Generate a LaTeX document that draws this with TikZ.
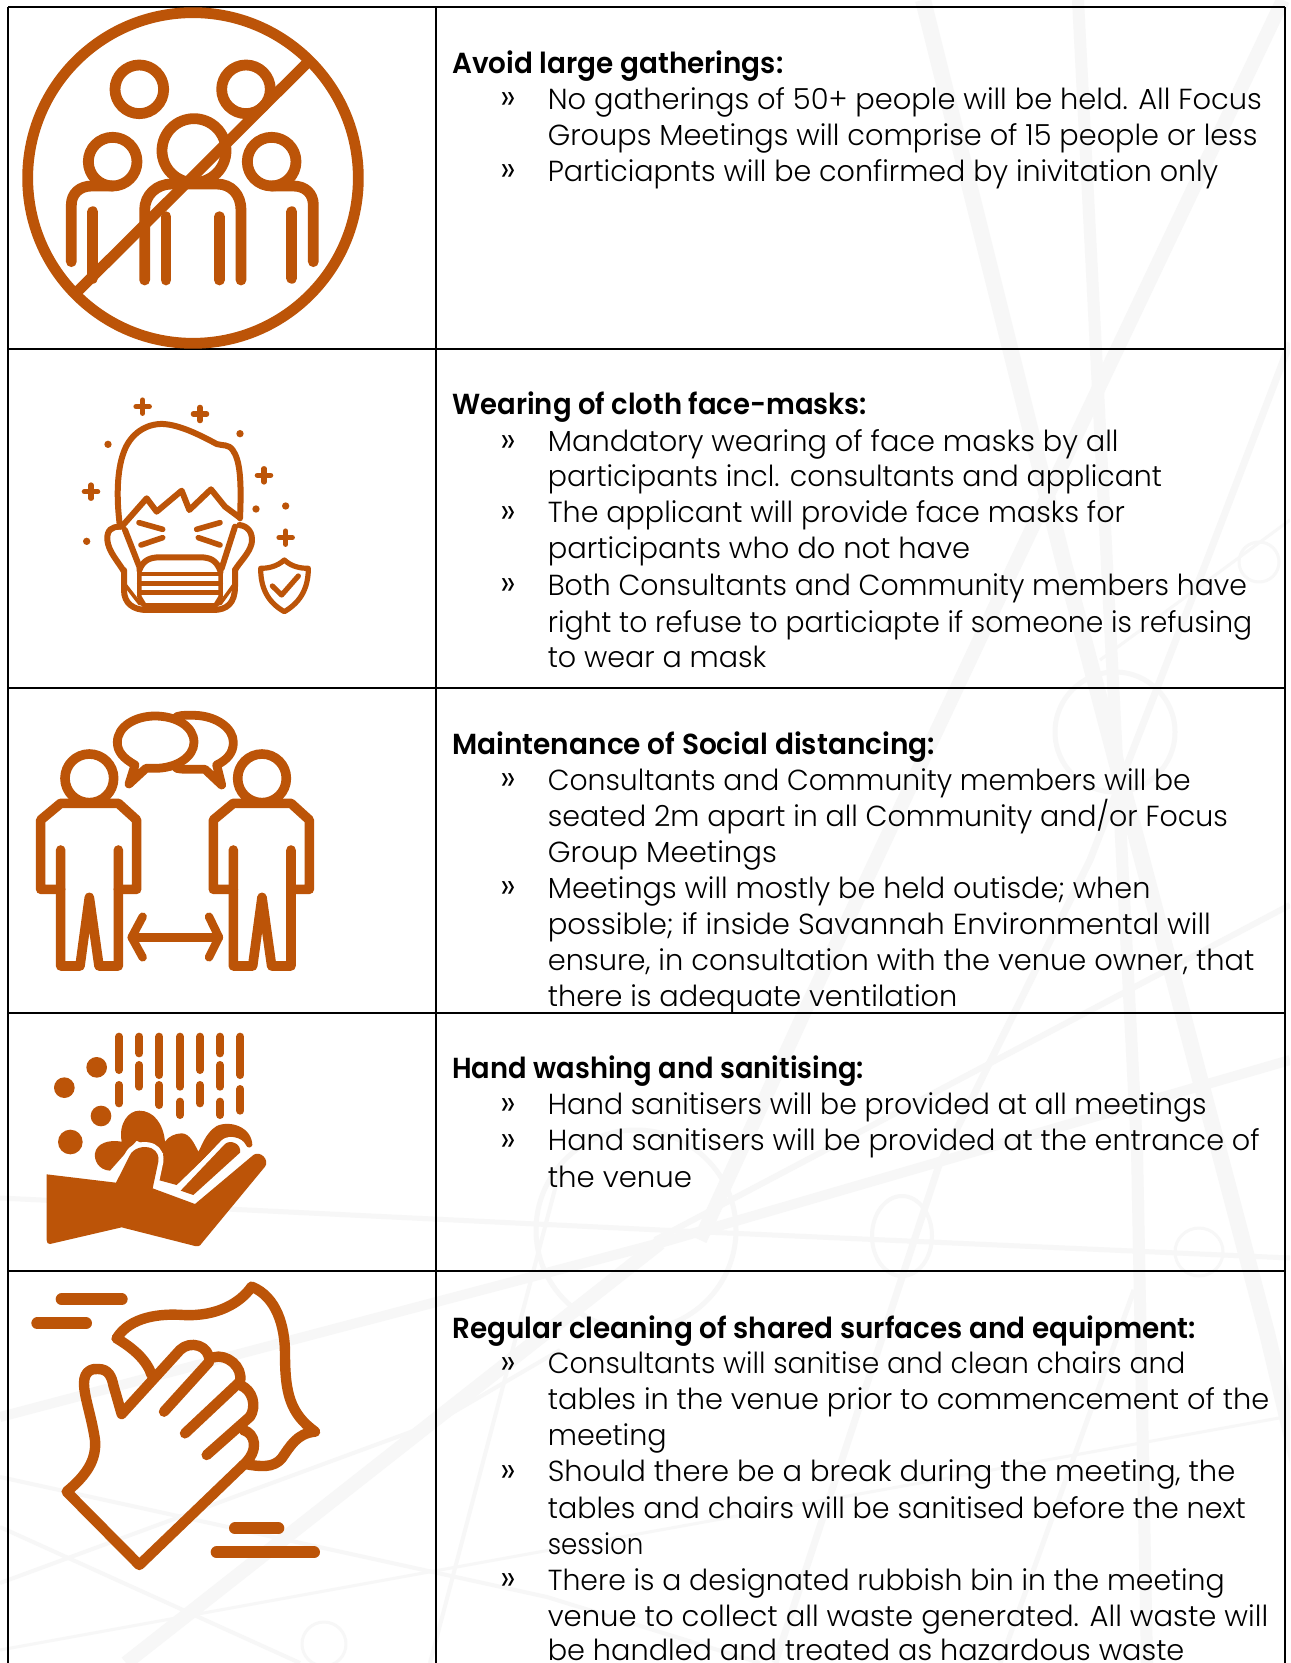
\documentclass[tikz,border=0pt]{standalone}
\usepackage{fontspec}
\usepackage{graphicx}
\setmainfont{Poppins}[UprightFont=* Light,BoldFont=* SemiBold]
\definecolor{icon}{HTML}{BC5408}
\definecolor{wm}{HTML}{F7F7F7}
\newcounter{tl}
\newsavebox\tlbox
\newcommand\tlfont{\fontsize{14.5pt}{18pt}\selectfont}
% #1 font switch, #2 y centre, #3 x start, #4 x end (all in 1216-wide measure), #5 text
\newcommand\tline[5]{%
  \stepcounter{tl}%
  \node[anchor=base west,inner sep=0pt,name=t\arabic{tl}] at ({#3*1.0609},{#2*1.0609+10.5}) {%
    \sbox\tlbox{\tlfont#1{}#5}%
    \pgfmathsetmacro\sx{(#4-#3)*1.0609*0.5/(\wd\tlbox)}%
    \scalebox{\sx}[1]{\usebox\tlbox}};%
}
\newcommand\heading[3]{\tline{\bfseries}{#1}{426}{#2}{#3}}
\newcommand\bline[3]{\tline{}{#1}{516}{#2}{#3}}
\newcommand\bul[1]{\stepcounter{tl}\node[anchor=base west,inner sep=0pt,name=t\arabic{tl},font=\fontsize{18pt}{18pt}\selectfont] at ({471*1.0609},{#1*1.0609+11}) {»};}
\tikzset{
  grid/.style={line width=1.25pt,black},
  ic/.style={draw=icon,line cap=round,line join=round},
  wmline/.style={draw=wm,line join=round}
}
\begin{document}
\begin{tikzpicture}[x=0.5pt,y=-0.5pt]
\useasboundingbox (0,0) rectangle (1290,1663);
\fill[white] (0,0) rectangle (1290,1663);
% watermark
\begin{scope}
\clip (0,0) rectangle (1290,1663);
\draw[wmline,line width=8pt] (923,0) -- (1063,560) -- (1267,1333) -- (1340,1640);
\draw[wmline,line width=6pt] (1078,0) -- (1137,1150) -- (1147,1663);
\draw[wmline,line width=7pt] (1283,0) -- (1017,560) -- (810,1000) -- (700,1240);
\draw[wmline,line width=2.5pt] (1134,1290) -- (1000,1663);
\draw[wmline,line width=2.5pt] (0,1198) -- (660,1230) -- (1290,1258);
\draw[wmline,line width=5pt] (0,1417) -- (660,1243) -- (1290,1060);
\draw[wmline,line width=3pt] (655,1240) -- (1290,905);
\draw[wmline,line width=2pt] (0,1477) -- (547,1597) -- (760,1663);
\draw[wmline,line width=2pt] (0,1527) -- (300,1663);
\draw[wmline,line width=1.5pt] (0,1650) -- (660,1530) -- (1290,1416);
\draw[wmline,line width=7pt] (126,1663) -- (435,1420) -- (660,1243);
\draw[wmline,line width=2pt] (0,1583) -- (435,1423) -- (560,1350);
\draw[wmline,line width=3.5pt] (1290,343) -- (1207,560) -- (1090,860) -- (939,1165) -- (775,1663);
\draw[wmline,line width=1.5pt] (1290,520) -- (1100,660);
\draw[wmline,line width=2pt] (560,1170) -- (430,1663);
\draw[wmline,line width=2.5pt] (636,1230) circle[radius=100];
\draw[wmline,line width=2.5pt] (1115,732) circle[radius=60];
\draw[wmline,line width=2pt] (902,1236) ellipse[x radius=30,y radius=40];
\draw[wmline,line width=1.5pt] (1199,1252) circle[radius=24];
\draw[wmline,line width=1.5pt] (1259,562) circle[radius=20];
\draw[wmline,line width=1.5pt] (324,1644) circle[radius=22];
\end{scope}
% table
\draw[grid] (8,7) -- (1285,7);
\draw[grid] (8,7) -- (8,1663);
\draw[grid] (436,7) -- (436,1663);
\draw[grid] (1285,7) -- (1285,1663);
\draw[grid] (8,349) -- (1285,349);
\draw[grid] (8,688) -- (1285,688);
\draw[grid] (8,1013) -- (1285,1013);
\draw[grid] (8,1271) -- (1285,1271);
% icon 1
\begin{scope}[scale=1/3]
\draw[ic,line width=5.4pt] (579,534) circle[radius=496];
\draw[ic,line width=5.4pt] (232,875) -- (920,190);
\draw[ic,line width=5.4pt] (418,268) circle[radius=73];
\draw[ic,line width=5.4pt] (738,268) circle[radius=73];
\draw[ic,line width=5.4pt] (582,452) circle[radius=96];
\draw[ic,line width=5.4pt] (338,485) circle[radius=73];
\draw[ic,line width=5.4pt] (815,485) circle[radius=73];
\draw[ic,line width=5.4pt] (214,785) -- (214,615) .. controls (214,580) and (240,558) .. (275,558) -- (338,558);
\draw[ic,line width=5.4pt] (278,635) -- (278,835);
\draw[ic,line width=5.4pt] (434,840) -- (434,630) .. controls (434,585) and (470,552) .. (515,552) -- (650,552) .. controls (695,552) and (723,585) .. (723,630) -- (723,840);
\draw[ic,line width=5.4pt] (498,650) -- (498,840);
\draw[ic,line width=5.4pt] (658,650) -- (658,840);
\draw[ic,line width=5.4pt] (940,785) -- (940,615) .. controls (940,580) and (915,558) .. (880,558) -- (815,558);
\draw[ic,line width=5.4pt] (875,635) -- (875,835);
\end{scope}
% icon 2
\begin{scope}[shift={(40,370)},scale=1/3]
\foreach \p in {(308,110),(480,132),(672,316),(153,365),(737,503)}{
  \draw[ic,line width=2.6pt] \p ++(-20,0) -- ++(40,0);
  \draw[ic,line width=2.6pt] \p ++(0,-20) -- ++(0,40);
}
\foreach \p in {(204,223),(600,191),(648,417),(737,408),(140,514)}{
  \fill[icon] \p circle[radius=11];
}
\draw[ic,line width=3pt] (240,470) .. controls (228,380) and (232,300) .. (250,250) .. controls (270,190) and (320,160) .. (370,162) .. controls (420,165) and (480,195) .. (530,222) .. controls (550,228) and (565,222) .. (578,240) .. controls (600,270) and (605,330) .. (600,445);
\draw[ic,line width=3pt] (245,470) -- (320,385) -- (350,425) -- (425,362) -- (448,420) -- (513,358) -- (555,410) -- (598,442);
\draw[ic,line width=2.8pt] (297,458) -- (368,478);
\draw[ic,line width=2.8pt] (368,503) -- (303,525);
\draw[ic,line width=2.8pt] (540,458) -- (470,478);
\draw[ic,line width=2.8pt] (475,503) -- (540,525);
\draw[ic,line width=3pt] (240,470) .. controls (215,470) and (200,480) .. (202,510) .. controls (205,545) and (235,575) .. (252,605);
\draw[ic,line width=3pt] (598,465) .. controls (625,468) and (640,490) .. (635,520) .. controls (628,550) and (600,575) .. (585,600);
\draw[ic,line width=3pt] (255,480) -- (300,595);
\draw[ic,line width=3pt] (585,470) -- (545,595);
\draw[ic,line width=3pt] (252,600) -- (252,660) .. controls (252,700) and (280,720) .. (320,720) -- (520,720) .. controls (560,720) and (585,700) .. (585,650) -- (585,600);
\draw[ic,line width=3pt] (298,600) .. controls (310,570) and (330,562) .. (360,562) -- (480,562) .. controls (510,562) and (530,570) .. (542,605);
\draw[ic,line width=2.2pt] (298,600) -- (298,680) -- (320,716);
\draw[ic,line width=2.2pt] (542,600) -- (542,680) -- (520,716);
\draw[ic,line width=2.4pt] (298,612) -- (542,612);
\draw[ic,line width=2.4pt] (298,640) -- (542,640);
\draw[ic,line width=2.4pt] (298,668) -- (542,668);
\draw[ic,line width=2.4pt] (310,705) -- (530,705);
\draw[ic,line width=1.8pt] (252,640) -- (300,702);
\draw[ic,line width=1.8pt] (585,640) -- (540,702);
\draw[ic,line width=2.6pt] (733,570) .. controls (710,590) and (685,595) .. (662,595) .. controls (662,650) and (680,695) .. (733,725) .. controls (785,695) and (805,650) .. (805,595) .. controls (780,595) and (755,590) .. (733,570) -- cycle;
\draw[ic,line width=2.6pt] (697,648) -- (725,675) -- (775,618);
\end{scope}
% icon 3
\begin{scope}[shift={(20,700)},scale=1/3]
\draw[ic,line width=4.8pt] (208,235) circle[radius=73];
\draw[ic,line width=4.8pt] (726,235) circle[radius=73];
\draw[ic,line width=4.8pt] (122,568) -- (62,568) -- (62,360) -- (122,310) -- (295,310) -- (350,360) -- (350,568) -- (295,568);
\draw[ic,line width=4.8pt] (122,450) -- (122,798) -- (180,798) -- (208,592) -- (237,798) -- (295,798) -- (295,450);
\draw[ic,line width=4.8pt] (640,568) -- (580,568) -- (580,360) -- (640,310) -- (813,310) -- (868,360) -- (868,568) -- (813,568);
\draw[ic,line width=4.8pt] (640,450) -- (640,798) -- (698,798) -- (726,592) -- (755,798) -- (813,798) -- (813,450);
\draw[ic,line width=4.2pt] (335,712) -- (597,712);
\draw[ic,line width=4.2pt] (368,650) -- (335,712) -- (368,772);
\draw[ic,line width=4.2pt] (567,650) -- (597,712) -- (567,772);
\draw[ic,line width=4.4pt] (345,195) .. controls (310,175) and (292,155) .. (292,127) .. controls (292,80) and (345,48) .. (405,48) .. controls (470,48) and (522,80) .. (522,127) .. controls (522,170) and (470,205) .. (405,205) .. controls (395,205) and (385,205) .. (378,205) -- (327,252) -- cycle;
\draw[ic,line width=4.4pt] (470,50) .. controls (490,44) and (505,46) .. (525,46) .. controls (590,48) and (640,85) .. (640,127) .. controls (640,160) and (620,180) .. (590,195) -- (605,255) -- (555,208) -- (510,208) .. controls (495,208) and (485,208) .. (470,205);
\end{scope}
% icon 4
\begin{scope}[shift={(20,1020)},scale=1/3]
\foreach \x/\a/\b in {297/50/150,297/195/250,358/50/100,358/135/200,418/50/165,418/195/255,480/50/200,480/245/285,540/50/150,540/195/250,600/50/100,600/135/200,600/245/285,661/50/165,661/207/272}{
  \draw[ic,line width=4pt] (\x,\a) -- (\x,\b);
}
\fill[icon] (230,142) circle[radius=31];
\fill[icon] (133,203) circle[radius=31];
\fill[icon] (243,288) circle[radius=31];
\fill[icon] (151,366) circle[radius=37];
\fill[icon] (270,452) .. controls (235,450) and (222,420) .. (225,400) .. controls (230,370) and (265,358) .. (305,365) .. controls (295,310) and (325,272) .. (358,272) .. controls (400,272) and (430,310) .. (435,365) .. controls (445,350) and (465,340) .. (485,340) .. controls (510,340) and (525,375) .. (535,395) .. controls (545,380) and (555,340) .. (590,318) .. controls (630,300) and (695,320) .. (697,375) .. controls (695,385) and (680,385) .. (678,375) .. controls (665,350) and (630,345) .. (610,360) -- (470,495) -- (415,480) -- (430,400) -- (350,362) -- cycle;
\draw[draw=white,line width=5pt,line join=round] (482,512) -- (615,372) .. controls (630,358) and (665,370) .. (660,398) -- (520,525) -- cycle;
\fill[icon] (482,512) -- (615,372) .. controls (630,358) and (665,370) .. (660,398) -- (520,525) -- cycle;
\draw[draw=white,line width=5pt,line join=round] (288,488) -- (330,405) .. controls (340,385) and (370,375) .. (395,385) .. controls (412,393) and (418,410) .. (415,425) -- (398,505) -- (525,552) -- (700,405);
\fill[icon] (80,463) -- (288,488) -- (330,405) .. controls (340,385) and (370,375) .. (395,385) .. controls (412,393) and (418,410) .. (415,425) -- (398,505) -- (525,552) -- (700,405) .. controls (720,390) and (750,420) .. (735,440) -- (545,670) .. controls (540,680) and (530,680) .. (525,678) -- (305,622) -- (90,672) .. controls (83,672) and (80,668) .. (80,660) -- cycle;
\end{scope}
% icon 5
\begin{scope}[shift={(10,1270)},scale=1/3]
\draw[ic,line width=6pt] (155,88) -- (335,88);
\draw[ic,line width=6pt] (82,160) -- (228,160);
\draw[ic,line width=6pt] (675,775) -- (805,775);
\draw[ic,line width=6pt] (620,847) -- (912,847);
\draw[ic,line width=5.2pt] (700,585) -- (388,885) -- (170,665) .. controls (230,615) and (260,570) .. (255,510) .. controls (245,440) and (222,380) .. (222,340) .. controls (222,300) and (250,295) .. (265,297) .. controls (295,297) and (305,320) .. (310,345) -- (335,432) -- (510,240) .. controls (540,210) and (600,225) .. (598,275) -- (462,425);
\draw[ic,line width=5.2pt] (610,262) .. controls (650,250) and (700,290) .. (690,335) -- (525,490);
\draw[ic,line width=5.2pt] (690,345) .. controls (730,360) and (740,410) .. (720,440) -- (590,555);
\draw[ic,line width=5.2pt] (700,480) .. controls (735,490) and (750,540) .. (700,585);
\draw[ic,line width=5.2pt] (320,205) .. controls (360,140) and (450,130) .. (520,135) .. controls (620,140) and (690,100) .. (725,50) .. controls (800,80) and (825,170) .. (825,250) .. controls (825,370) and (840,430) .. (915,485) .. controls (860,490) and (840,530) .. (815,565) .. controls (790,595) and (750,590) .. (705,582);
\draw[ic,line width=5.2pt] (320,205) .. controls (370,235) and (410,270) .. (425,315);
\end{scope}
% text
\heading{59}{738}{Avoid large gatherings:}
\bul{93}\bline{93}{1189}{No gatherings of 50+ people will be held. All Focus}
\bline{127}{1185}{Groups Meetings will comprise of 15 people or less}
\bul{161}\bline{161}{1148}{Particiapnts will be confirmed by inivitation only}
\heading{381}{817}{Wearing of cloth face-masks:}
\bul{416}\bline{416}{1054}{Mandatory wearing of face masks by all}
\bline{449}{1095}{participants incl. consultants and applicant}
\bul{483}\bline{483}{1060}{The applicant will provide face masks for}
\bline{517}{914}{participants who do not have}
\bul{551}\bline{551}{1175}{Both Consultants and Community members have}
\bline{586}{1180}{right to refuse to particiapte if someone is refusing}
\bline{619}{722}{to wear a mask}
\heading{701}{881}{Maintenance of Social distancing:}
\bul{735}\bline{735}{1122}{Consultants and Community members will be}
\bline{769}{1157}{seated 2m apart in all Community and/or Focus}
\bline{803}{732}{Group Meetings}
\bul{837}\bline{837}{1084}{Meetings will mostly be held outisde; when}
\bline{871}{1141}{possible; if inside Savannah Environmental will}
\bline{905}{1182}{ensure, in consultation with the venue owner, that}
\bline{939}{902}{there is adequate ventilation}
\heading{1007}{814}{Hand washing and sanitising:}
\bul{1041}\bline{1041}{1137}{Hand sanitisers will be provided at all meetings}
\bul{1075}\bline{1075}{1187}{Hand sanitisers will be provided at the entrance of}
\bline{1109}{652}{the venue}
\heading{1252}{1127}{Regular cleaning of shared surfaces and equipment:}
\bul{1285}\bline{1285}{1117}{Consultants will sanitise and clean chairs and}
\bline{1319}{1196}{tables in the venue prior to commencement of the}
\bline{1353}{628}{meeting}
\bul{1387}\bline{1387}{1164}{Should there be a break during the meeting, the}
\bline{1421}{1174}{tables and chairs will be sanitised before the next}
\bline{1455}{606}{session}
\bul{1489}\bline{1489}{1154}{There is a designated rubbish bin in the meeting}
\bline{1523}{1195}{venue to collect all waste generated. All waste will}
\bline{1555}{1116}{be handled and treated as hazardous waste}
\end{tikzpicture}
\end{document}
